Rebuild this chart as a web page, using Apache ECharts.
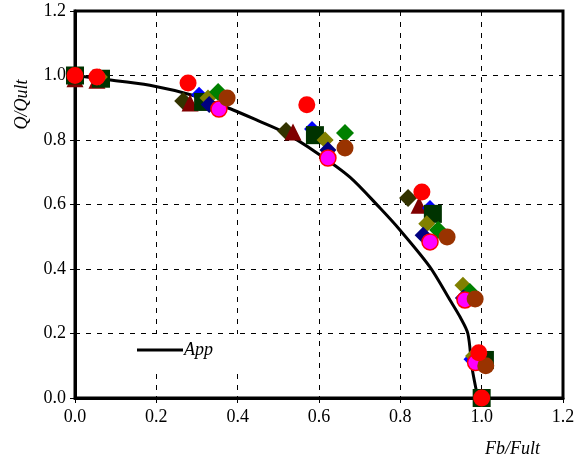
<!DOCTYPE html>
<html><head><meta charset="utf-8">
<script src="https://cdn.jsdelivr.net/npm/echarts@6/dist/echarts.min.js"></script>
<style>html,body{margin:0;padding:0;background:#fff}#c{width:588px;height:467px}</style>
</head><body><div id="c"></div>
<script>
var xTicks = [0, 0.2, 0.4, 0.6, 0.8, 1.0, 1.2];
var yTicks = [0, 0.2, 0.4, 0.6, 0.8, 1.0, 1.2];

var appCurve = [[0,1.0],[0.06,0.99],[0.184,0.97],[0.3,0.935],[0.389,0.893],[0.45,0.86],[0.512,0.825],[0.595,0.76],[0.676,0.685],[0.75,0.589],[0.799,0.521],[0.873,0.406],[0.922,0.304],[0.947,0.251],[0.966,0.2],[0.976,0.096],[0.988,0.015],[0.99,0]];

var darkOliveDiamonds = [[0.0,1.0],[0.06,0.99],[0.266,0.921],[0.519,0.828],[0.819,0.620]];
var darkRedTriangles = [[0.0,0.99],[0.054,0.985],[0.283,0.915],[0.536,0.825],[0.846,0.598],[1.0,0.12],[1.0,0.0]];
var blueDiamonds = [[0.0,1.0],[0.06,0.99],[0.305,0.94],[0.583,0.834],[0.873,0.589],[0.975,0.12]];
var darkGreenSquares = [[0.0,1.0],[0.064,0.99],[0.315,0.918],[0.590,0.815],[0.880,0.571],[1.008,0.118],[1.0,0.0]];
var oliveDiamonds = [[0.06,0.995],[0.327,0.93],[0.615,0.80],[0.865,0.54],[0.954,0.35],[0.98,0.13]];
var greenDiamonds = [[0.352,0.949],[0.664,0.822],[0.893,0.521],[0.971,0.329],[0.99,0.12]];
var navyDiamonds = [[0.33,0.91],[0.622,0.769],[0.856,0.505],[0.955,0.31],[0.985,0.12]];
var magentaCircles = [[0.354,0.896],[0.622,0.744],[0.873,0.484],[0.959,0.304],[0.985,0.11]];
var brownCircles = [[0.374,0.93],[0.664,0.775],[0.915,0.499],[0.984,0.307],[1.01,0.1]];
var redCircles = [[0.0,1.0],[0.054,0.995],[0.278,0.977],[0.570,0.909],[0.853,0.639],[0.993,0.14],[1.0,0.0]];

var FONT = 'Liberation Serif';
function sc(name, data, symbol, size, color, border) {
  return {
    name: name, type: 'scatter', data: data, symbol: symbol, symbolSize: size,
    itemStyle: { color: color, opacity: 1, borderColor: border || color, borderWidth: border ? 1.5 : 0 },
    emphasis: { disabled: true }, z: 3
  };
}

var chart = echarts.init(document.getElementById('c'));
chart.setOption({
  animation: false,
  backgroundColor: '#fff',
  grid: { left: 75, right: 25, top: 11, bottom: 69, show: true, borderColor: '#000', borderWidth: 3, backgroundColor: 'transparent' },
  legend: {
    data: [{ name: 'App', icon: 'rect', itemStyle: { color: '#000' } }], left: 92, top: 334, orient: 'vertical',
    backgroundColor: '#fff', padding: [7, 83, 15, 45],
    itemWidth: 46, itemHeight: 3, itemGap: 0,
    textStyle: { fontFamily: FONT, fontStyle: 'italic', fontSize: 18, color: '#000', padding: [0,0,0,-4] },
    z: 10
  },
  xAxis: {
    type: 'value', min: 0, max: 1.2, interval: 0.2,
    name: 'Fb/Fult', nameLocation: 'end', nameGap: 0,
    nameTextStyle: { fontFamily: FONT, fontStyle: 'italic', fontSize: 18, color: '#000', align: 'right', verticalAlign: 'top', padding: [42, 23, 0, 0] },
    axisLine: { show: true, lineStyle: { color: '#000', width: 3 } },
    axisTick: { show: true, length: 5, lineStyle: { color: '#000', width: 1 } },
    axisLabel: { fontFamily: FONT, fontSize: 18, color: '#000', margin: 10, formatter: function(v){ return v.toFixed(1); } },
    splitLine: { show: true, lineStyle: { color: '#000', type: [5, 6], width: 1 } }
  },
  yAxis: {
    type: 'value', min: 0, max: 1.2, interval: 0.2,
    name: 'Q/Qult', nameLocation: 'middle', nameGap: 44, nameRotate: 90,
    nameTextStyle: { fontFamily: FONT, fontStyle: 'italic', fontSize: 18, color: '#000', padding: [0, 0, 0, 200] },
    axisLine: { show: true, lineStyle: { color: '#000', width: 3 } },
    axisTick: { show: true, length: 5, lineStyle: { color: '#000', width: 1 } },
    axisLabel: { fontFamily: FONT, fontSize: 18, color: '#000', margin: 9, formatter: function(v){ return v.toFixed(1); } },
    splitLine: { show: true, lineStyle: { color: '#000', type: [5, 6], width: 1 } }
  },
  series: [
    { name: 'App', type: 'line', data: appCurve, symbol: 'none', smooth: 0.3,
      lineStyle: { color: '#000', width: 3 }, itemStyle: { color: '#000' }, z: 2, emphasis: { disabled: true } },
    sc('s1', darkOliveDiamonds, 'diamond', 18, '#333300'),
    sc('s2', darkRedTriangles, 'triangle', 17, '#800000'),
    sc('s3', blueDiamonds, 'diamond', 16, '#0000ff'),
    sc('s4', darkGreenSquares, 'rect', 18, '#003300'),
    sc('s5', oliveDiamonds, 'diamond', 17, '#808000'),
    sc('s6', greenDiamonds, 'diamond', 18, '#008000'),
    sc('s7', navyDiamonds, 'diamond', 17, '#000080'),
    sc('s8', magentaCircles, 'circle', 16, '#ff00ff', '#ff0000'),
    sc('s9', brownCircles, 'circle', 17, '#993300'),
    sc('s10', redCircles, 'circle', 17, '#ff0000')
  ]
});
</script></body></html>
